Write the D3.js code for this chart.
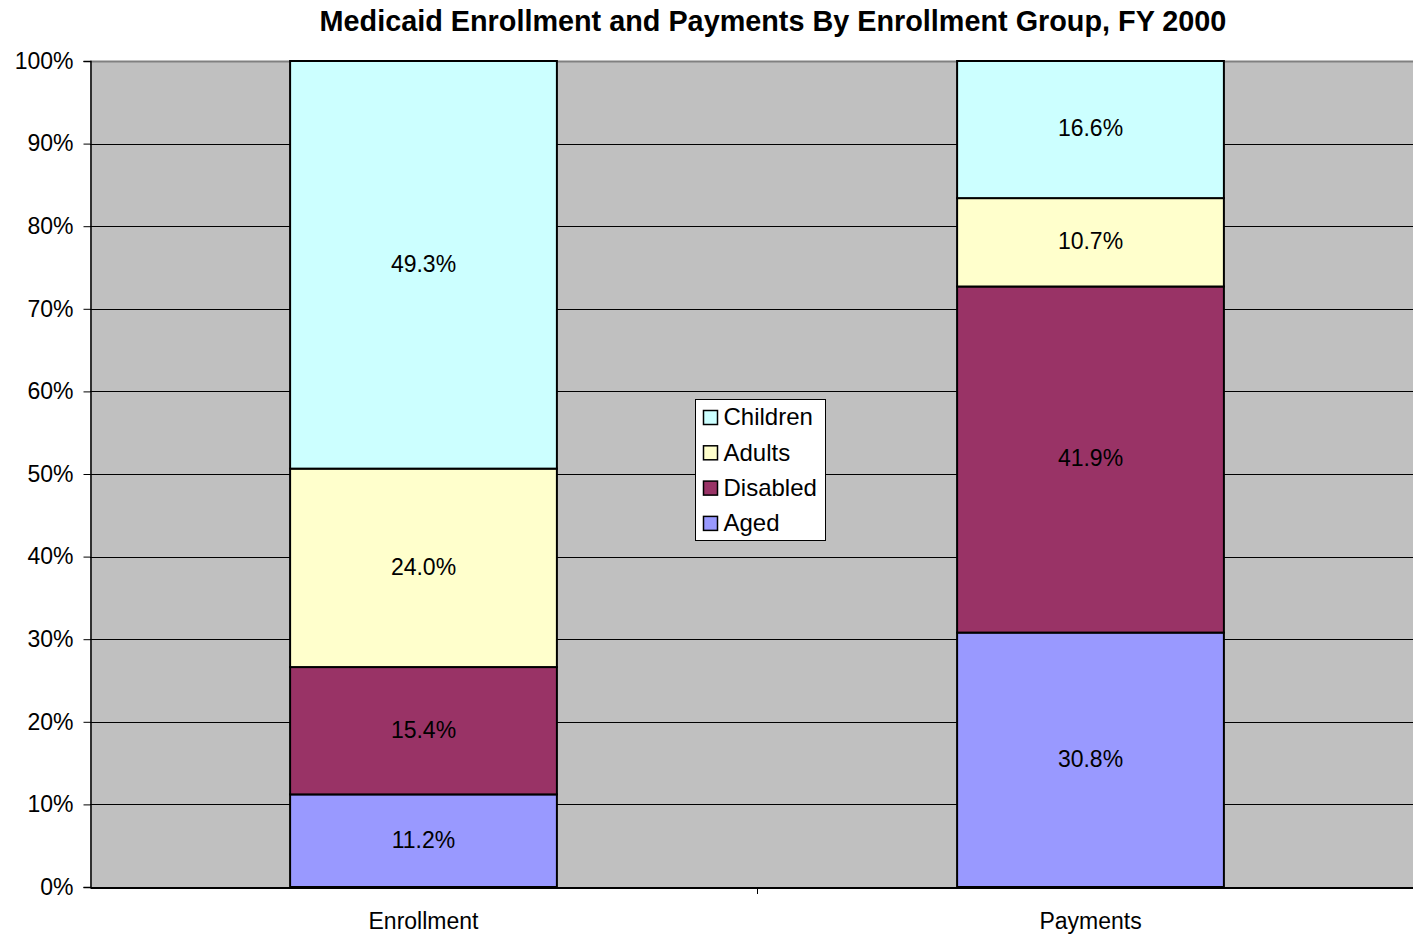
<!DOCTYPE html>
<html>
<head>
<meta charset="utf-8">
<script src="https://cdn.jsdelivr.net/npm/d3@7"></script>
<style>
  body { margin: 0; background: #fff; }
  text { font-family: "Liberation Sans", Arial, sans-serif; }
</style>
</head>
<body>
<svg id="chart" width="1413" height="934"></svg>
<script>
// data
const categories = ["Enrollment", "Payments"];
const groups = ["Aged", "Disabled", "Adults", "Children"];
const aged = [11.2, 30.8];
const disabled = [15.4, 41.9];
const adults = [24.0, 10.7];
const children = [49.3, 16.6];
const yTicks = [0, 10, 20, 30, 40, 50, 60, 70, 80, 90, 100];
const colors = ["#9999FF", "#993366", "#FFFFCC", "#CCFFFF"];

const margin = { top: 61, right: -11, bottom: 47, left: 90 };
const width = 1413, height = 934;

const svg = d3.select("#chart");

const rows = categories.map((c, i) => {
    const vals = [aged[i], disabled[i], adults[i], children[i]];
    const r = { category: c };
    groups.forEach((g, j) => r[g] = vals[j]);
    return r;
});

const stack = d3.stack().keys(groups).offset(d3.stackOffsetExpand);
const series = stack(rows);

const x = d3.scaleBand()
    .domain(categories)
    .range([margin.left, width - margin.right]);

const y = d3.scaleLinear()
    .domain([0, 1])
    .range([height - margin.bottom, margin.top]);

const color = d3.scaleOrdinal().domain(groups).range(colors);

// plot background
svg.append("rect")
    .attr("x", margin.left)
    .attr("y", margin.top)
    .attr("width", width - margin.right - margin.left)
    .attr("height", y(0) - y(1))
    .attr("fill", "#C0C0C0");

// gridlines
svg.append("g")
    .selectAll("line")
    .data(yTicks)
    .join("line")
    .attr("x1", margin.left)
    .attr("x2", width)
    .attr("y1", d => Math.round(y(d / 100)) + 0.5)
    .attr("y2", d => Math.round(y(d / 100)) + 0.5)
    .attr("stroke", d => d === 100 ? "#808080" : "#000")
    .attr("stroke-width", d => d === 100 ? 2 : 1);

// y axis
const yAxis = svg.append("g")
    .attr("transform", `translate(${margin.left + 0.5},0)`)
    .call(d3.axisLeft(y)
        .tickValues(yTicks.map(d => d / 100))
        .tickFormat(d => Math.round(d * 100) + "%")
        .tickSize(7)
        .tickPadding(10));
yAxis.select(".domain").attr("stroke", "#000").attr("stroke-width", 1.5);
yAxis.selectAll(".tick line").attr("stroke", "#000");
yAxis.selectAll(".tick text")
    .attr("font-size", "23px")
    .attr("font-family", "Liberation Sans, Arial, sans-serif")
    .attr("fill", "#000");

// x axis
const xAxis = svg.append("g")
    .attr("transform", `translate(0,${y(0) + 0.5})`)
    .call(d3.axisBottom(x).tickSize(0).tickPadding(25));
xAxis.select(".domain").attr("stroke", "#000").attr("stroke-width", 2);
xAxis.selectAll(".tick text")
    .attr("font-size", "23px")
    .attr("font-family", "Liberation Sans, Arial, sans-serif")
    .attr("fill", "#000");
// tick between categories
svg.append("line")
    .attr("x1", x(categories[1]) + 0.5)
    .attr("x2", x(categories[1]) + 0.5)
    .attr("y1", y(0))
    .attr("y2", y(0) + 7)
    .attr("stroke", "#000");

// bars
const barW = x.bandwidth() * 0.4;
const layer = svg.append("g")
    .selectAll("g")
    .data(series)
    .join("g")
    .attr("fill", d => color(d.key));

layer.selectAll("rect")
    .data(d => d)
    .join("rect")
    .attr("x", d => x(d.data.category) + (x.bandwidth() - barW) / 2)
    .attr("y", d => y(d[1]))
    .attr("width", barW)
    .attr("height", d => y(d[0]) - y(d[1]))
    .attr("stroke", "#000")
    .attr("stroke-width", 2);

// value labels
const labels = svg.append("g");
series.forEach(s => {
    labels.selectAll(null)
        .data(s)
        .join("text")
        .attr("x", d => x(d.data.category) + x.bandwidth() / 2)
        .attr("y", d => (y(d[0]) + y(d[1])) / 2)
        .attr("dy", "0.3em")
        .attr("text-anchor", "middle")
        .attr("font-size", "23px")
        .attr("fill", "#000")
        .text(d => d.data[s.key].toFixed(1) + "%");
});

// title
svg.append("text")
    .attr("x", 773)
    .attr("y", 31)
    .attr("text-anchor", "middle")
    .attr("font-size", "28.8px")
    .attr("font-weight", "bold")
    .text("Medicaid Enrollment and Payments By Enrollment Group, FY 2000");

// legend
const legend = svg.append("g").attr("transform", "translate(695.5,399.5)");
legend.append("rect")
    .attr("width", 130)
    .attr("height", 141)
    .attr("fill", "#fff")
    .attr("stroke", "#000");
const items = legend.selectAll("g")
    .data(groups.slice().reverse())
    .join("g")
    .attr("transform", (d, i) => `translate(8,${18 + i * 35.3})`);
items.append("rect")
    .attr("x", 0)
    .attr("y", -7)
    .attr("width", 14)
    .attr("height", 14)
    .attr("fill", d => color(d))
    .attr("stroke", "#000")
    .attr("stroke-width", 1.5);
items.append("text")
    .attr("x", 20)
    .attr("dy", "0.33em")
    .attr("font-size", "24px")
    .text(d => d);
</script>
</body>
</html>
